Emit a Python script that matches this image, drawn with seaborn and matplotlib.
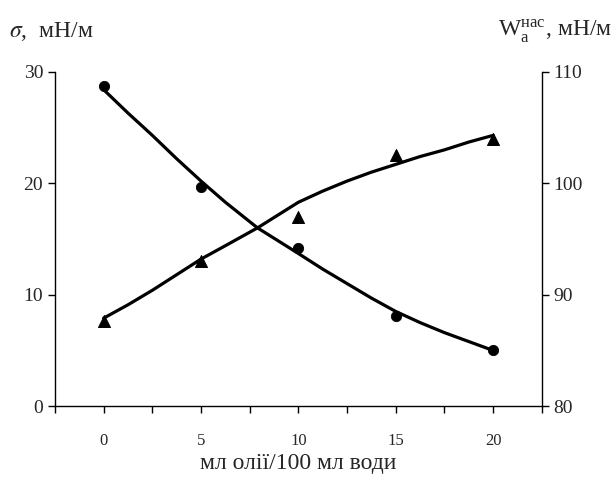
import numpy as np
import pandas as pd
import matplotlib
matplotlib.use('Agg')
import matplotlib.pyplot as plt
import seaborn as sns

# дані (точки)
x_pts = [0, 5, 10, 15, 20]
sigma_pts = [28.7, 19.7, 14.2, 8.1, 5.0]
w_pts = [87.6, 93.0, 97.0, 102.5, 104.0]

# лінії тренду
x_line = [0, 1.25, 2.5, 3.75, 5, 6.25, 7.9, 10, 11.25, 12.5, 13.75, 15, 16.25, 17.5, 18.75, 20]
sigma_line = [28.4, 26.3, 24.3, 22.2, 20.2, 18.3, 16.0, 13.7, 12.3, 11.0, 9.7, 8.5, 7.5, 6.6, 5.8, 5.0]
w_line = [87.9, 89.1, 90.4, 91.8, 93.2, 94.4, 96.0, 98.3, 99.3, 100.2, 101.0, 101.7, 102.4, 103.0, 103.7, 104.3]

xticks = [0, 5, 10, 15, 20]

sns.set_style('ticks')
plt.rcParams['font.family'] = ['Liberation Serif', 'DejaVu Serif']
plt.rcParams['mathtext.fontset'] = 'stix'

fig = plt.figure(figsize=(6.15, 4.79), dpi=100)
ax = fig.add_axes([0.0894, 0.152, 0.7916, 0.698])
ax2 = ax.twinx()

sns.lineplot(x=x_line, y=sigma_line, ax=ax, color='black', lw=2.3)
sns.scatterplot(x=x_pts, y=sigma_pts, ax=ax, color='black', marker='o', s=55, edgecolor='black', zorder=5)
sns.lineplot(x=x_line, y=w_line, ax=ax2, color='black', lw=2.3)
sns.scatterplot(x=x_pts, y=w_pts, ax=ax2, color='black', marker='^', s=75, edgecolor='black', zorder=5)

ax.set_xlim(-2.5, 22.5)
ax.set_ylim(0, 30)
ax2.set_ylim(80, 110)
ax.set_yticks([0, 10, 20, 30])
ax2.set_yticks([80, 90, 100, 110])
ax.set_xticks(xticks)
ax.set_xticks(np.arange(-2.5, 22.6, 2.5), minor=True)
ax.set_xticklabels([str(t) for t in xticks], fontsize=12)
ax.tick_params(axis='x', which='both', length=5, width=1, pad=14, color='black')
ax.tick_params(axis='y', length=5, width=1, labelsize=14, color='black')
ax2.tick_params(axis='y', length=5, width=1, labelsize=14, color='black')

for a in (ax, ax2):
    a.spines['top'].set_visible(False)
    for s in ('left', 'right', 'bottom'):
        a.spines[s].set_color('black')
        a.spines[s].set_linewidth(1)
ax.spines['right'].set_visible(False)
ax2.spines['left'].set_visible(False)
ax2.spines['bottom'].set_visible(False)

fig.text(0.015, 0.935, r'$\sigma$,  мН/м', fontsize=17, ha='left', va='center')
fig.text(0.995, 0.935, r'W$_\mathregular{a}^\mathregular{нас}$, мН/м', fontsize=17, ha='right', va='center')
ax.set_xlabel('мл олії/100 мл води', fontsize=17, labelpad=3)

fig.savefig('out.png', dpi=100)
